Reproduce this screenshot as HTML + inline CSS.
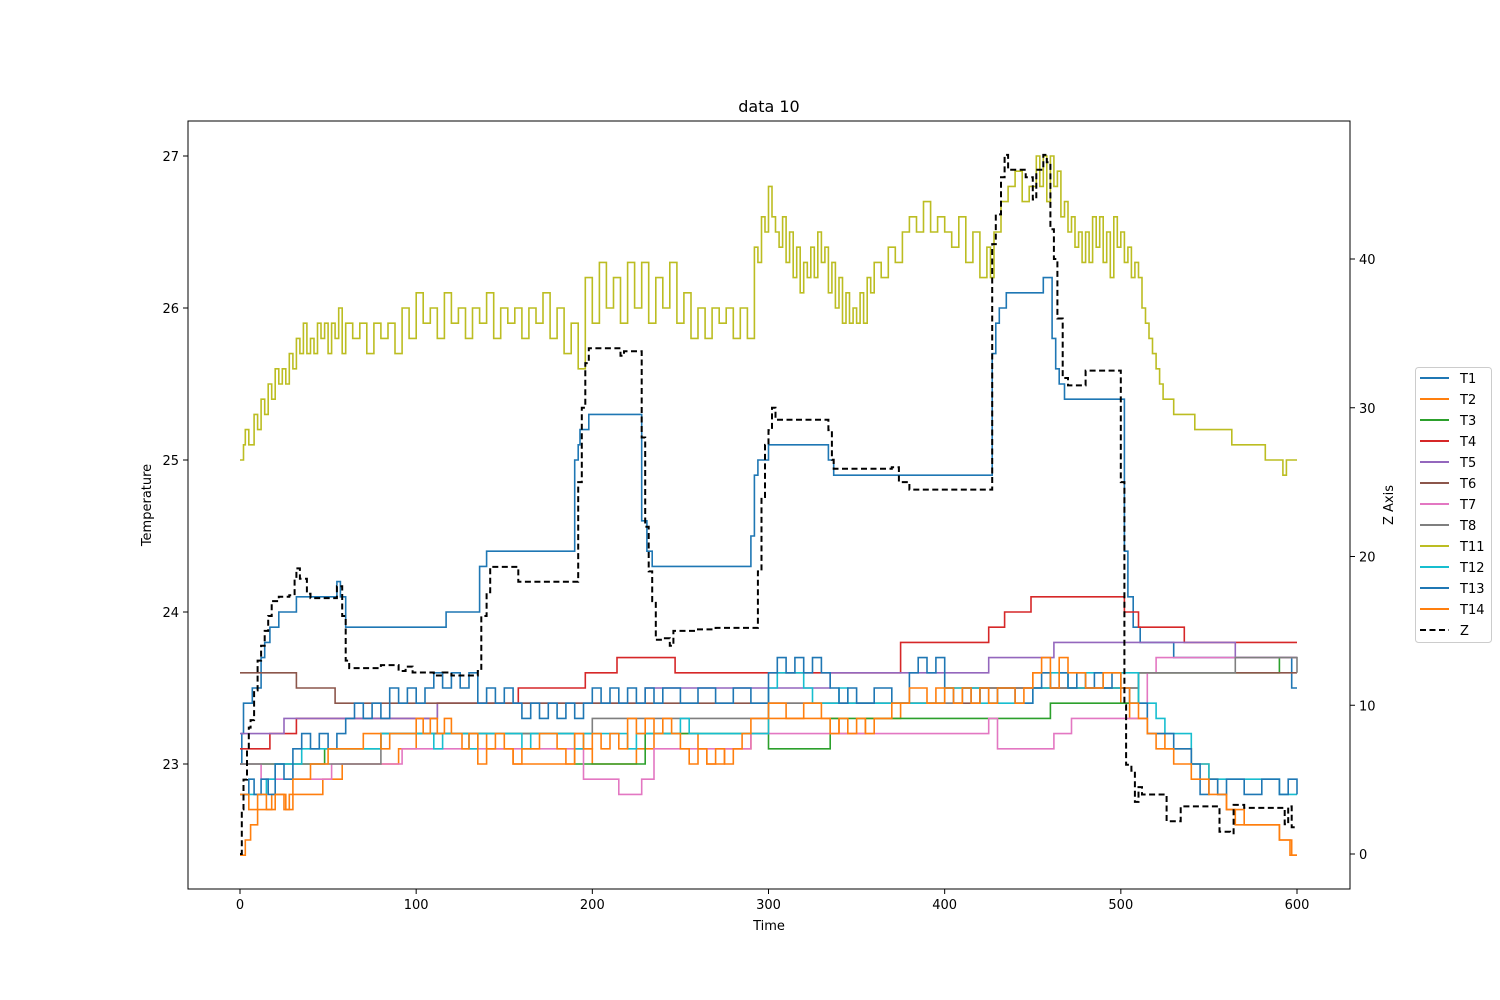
<!DOCTYPE html>
<html><head><meta charset="utf-8"><style>
body{margin:0;background:#fff;}
svg{display:block;font-family:"DejaVu Sans","Liberation Sans",sans-serif;}
</style></head><body>
<svg id="chart" width="1500" height="1000" xmlns="http://www.w3.org/2000/svg">
<rect x="0" y="0" width="1500" height="1000" fill="#fff"/>
<text x="769" y="112" font-size="16" text-anchor="middle">data 10</text>
<text x="769" y="930" font-size="13" text-anchor="middle">Time</text>
<text x="0" y="0" font-size="13" text-anchor="middle" transform="translate(151,505) rotate(-90)">Temperature</text>
<text x="0" y="0" font-size="13" text-anchor="middle" transform="translate(1393,505) rotate(-90)">Z Axis</text>
<g id="marks"></g>
<g id="axes"></g>
<g id="legend"></g>
</svg>
<script>
const xTicks=[0,100,200,300,400,500,600];
const yTicks=[23,24,25,26,27];
const zTicks=[0,10,20,30,40];
const seriesNames=["T1","T2","T3","T4","T5","T6","T7","T8","T11","T12","T13","T14","Z"];
const seriesColors=["#1f77b4","#ff7f0e","#2ca02c","#d62728","#9467bd","#8c564b","#e377c2","#7f7f7f","#bcbd22","#17becf","#1f77b4","#ff7f0e","#000"];

const t1Times=[0,1,2,7,12,14,17,22,32,55,57,60,117,136,138,140,190,192,193,195,198,227,228,231,234,290,292,294,297,300,333,334,337,425,427,429,431,435,456,461,463,465,468,500,502,504,507,511,530,597,600];
const t1Values=[23.0,23.2,23.4,23.5,23.7,23.8,23.9,24.0,24.1,24.2,24.1,23.9,24.0,24.3,24.3,24.4,25.0,25.1,25.2,25.2,25.3,25.3,24.6,24.4,24.3,24.5,24.9,25.0,25.0,25.1,25.1,25.0,24.9,24.9,25.7,25.9,26.0,26.1,26.2,25.8,25.6,25.5,25.4,25.4,24.4,24.1,23.9,23.8,23.7,23.5,23.5];

const t2Times=[0,3,6,10,18,26,28,47,58,90,100,140,155,190,200,225,235,260,265,275,290,300,340,355,375,395,450,460,500,505,515,525,540,550,555,560,565,590,597,600];
const t2Values=[22.4,22.5,22.6,22.7,22.8,22.7,22.8,22.9,23.0,23.1,23.2,23.1,23.0,23.1,23.0,23.1,23.2,23.1,23.0,23.1,23.2,23.3,23.2,23.3,23.4,23.5,23.6,23.5,23.4,23.3,23.2,23.1,23.0,22.9,22.8,22.7,22.6,22.5,22.4,22.4];

const t3Times=[0,48,80,190,230,300,335,460,510,515,590,600];
const t3Values=[23.0,23.1,23.2,23.0,23.2,23.1,23.3,23.4,23.6,23.6,23.7,23.7];

const t4Times=[0,17,32,112,158,196,214,247,375,425,434,449,502,510,536,600];
const t4Values=[23.1,23.2,23.3,23.4,23.5,23.6,23.7,23.6,23.8,23.9,24.0,24.1,24.0,23.9,23.8,23.8];

const t5Times=[0,25,112,230,335,425,462,565,600];
const t5Values=[23.2,23.3,23.4,23.5,23.6,23.7,23.8,23.7,23.7];

const t6Times=[0,32,54,250,420,510,600];
const t6Values=[23.6,23.5,23.4,23.4,23.5,23.6,23.6];

const t7Times=[0,12,52,92,195,215,228,235,290,425,430,462,472,515,520,600];
const t7Values=[23.0,22.9,23.0,23.1,22.9,22.8,22.9,23.1,23.2,23.3,23.1,23.2,23.3,23.6,23.7,23.7];

const t8Times=[0,80,200,300,410,510,565,600];
const t8Values=[23.0,23.2,23.3,23.4,23.5,23.6,23.7,23.6];

const t11Times=[0,2,3,5,8,10,12,14,16,18,20,22,24,26,28,30,32,34,36,38,40,42,44,46,48,50,52,54,56,58,60,64,68,72,76,80,84,88,92,96,100,104,108,112,116,120,124,128,132,136,140,144,148,152,156,160,164,168,172,176,180,184,188,192,196,200,204,208,212,216,220,224,228,232,236,240,244,248,252,256,260,264,268,272,276,280,284,288,292,294,296,298,300,302,304,306,308,310,312,314,316,318,320,322,324,326,328,330,332,334,336,338,340,342,344,346,348,350,352,354,356,358,360,364,368,372,376,380,384,388,392,396,400,404,408,412,416,420,424,426,428,432,436,440,444,448,452,454,456,458,460,462,464,466,468,470,472,474,476,478,480,482,484,486,488,490,492,494,496,498,500,502,504,506,508,510,512,514,516,518,520,522,524,526,530,542,563,582,592,594,600];
const t11Values=[25.0,25.1,25.2,25.1,25.3,25.2,25.4,25.3,25.5,25.4,25.6,25.5,25.6,25.5,25.7,25.6,25.8,25.7,25.9,25.7,25.8,25.7,25.9,25.8,25.9,25.7,25.9,25.8,26.0,25.7,25.9,25.8,25.9,25.7,25.9,25.8,25.9,25.7,26.0,25.8,26.1,25.9,26.0,25.8,26.1,25.9,26.0,25.8,26.0,25.9,26.1,25.8,26.0,25.9,26.0,25.8,26.0,25.9,26.1,25.8,26.0,25.7,25.9,25.6,26.2,25.9,26.3,26.0,26.2,25.9,26.3,26.0,26.3,25.9,26.2,26.0,26.3,25.9,26.1,25.8,26.0,25.8,26.0,25.9,26.0,25.8,26.0,25.8,26.4,26.3,26.6,26.5,26.8,26.6,26.5,26.4,26.6,26.3,26.5,26.2,26.4,26.1,26.3,26.2,26.4,26.2,26.5,26.3,26.4,26.1,26.3,26.0,26.2,25.9,26.1,25.9,26.0,25.9,26.1,25.9,26.2,26.1,26.3,26.2,26.4,26.3,26.5,26.6,26.5,26.7,26.5,26.6,26.5,26.4,26.6,26.3,26.5,26.2,26.4,26.2,26.5,26.7,26.8,26.9,26.7,26.8,27.0,26.8,27.0,26.7,27.0,26.8,26.9,26.6,26.7,26.5,26.6,26.4,26.5,26.3,26.5,26.3,26.6,26.4,26.6,26.3,26.5,26.2,26.6,26.4,26.5,26.3,26.4,26.2,26.3,26.2,26.0,25.9,25.8,25.7,25.6,25.5,25.4,25.4,25.3,25.2,25.1,25.0,24.9,25.0,25.0];

const t12Times=[0,15,20,35,80,110,115,130,135,160,165,190,195,220,225,250,255,300,305,320,325,340,345,380,400,420,450,460,470,480,490,500,510,520,525,540,550,590,600];
const t12Values=[22.8,22.9,23.0,23.1,23.2,23.1,23.2,23.1,23.2,23.1,23.2,23.1,23.2,23.1,23.2,23.3,23.2,23.5,23.6,23.5,23.4,23.5,23.4,23.4,23.5,23.4,23.5,23.6,23.5,23.6,23.5,23.6,23.4,23.3,23.2,23.0,22.9,22.8,22.8];

const t13Times=[0,5,8,12,16,20,25,30,35,40,45,50,55,60,65,70,75,80,85,90,95,100,105,110,115,120,125,130,135,140,145,150,155,160,165,170,175,180,185,190,195,200,205,210,215,220,225,230,235,240,250,260,270,280,290,300,305,310,315,320,325,330,335,340,345,350,360,370,380,385,390,395,400,405,410,415,420,425,430,440,450,455,460,465,470,475,480,485,490,495,500,505,510,515,520,530,540,545,550,555,560,570,580,590,595,600];
const t13Values=[22.8,22.9,22.8,22.9,22.8,23.0,22.9,23.1,23.2,23.1,23.2,23.1,23.2,23.3,23.4,23.3,23.4,23.3,23.5,23.4,23.5,23.4,23.5,23.6,23.5,23.6,23.5,23.6,23.4,23.5,23.4,23.5,23.4,23.3,23.4,23.3,23.4,23.3,23.4,23.3,23.4,23.5,23.4,23.5,23.4,23.5,23.4,23.5,23.4,23.5,23.4,23.5,23.4,23.5,23.4,23.6,23.7,23.6,23.7,23.6,23.7,23.6,23.5,23.4,23.5,23.4,23.5,23.4,23.6,23.7,23.6,23.7,23.5,23.4,23.5,23.4,23.5,23.4,23.5,23.4,23.5,23.6,23.5,23.6,23.5,23.6,23.5,23.6,23.5,23.6,23.5,23.4,23.4,23.2,23.2,23.1,23.0,22.8,22.9,22.8,22.9,22.8,22.9,22.8,22.9,22.8];

const t14Times=[0,5,10,15,20,25,30,40,50,70,80,85,100,104,108,112,116,120,126,130,135,140,145,150,155,160,170,180,185,190,195,200,205,210,215,220,225,230,235,240,245,250,255,260,265,270,275,280,285,290,300,310,320,330,335,340,345,350,355,360,370,380,390,400,405,410,415,420,425,430,440,445,450,455,460,465,470,480,490,500,505,510,515,520,530,540,550,560,570,590,596,600];
const t14Values=[22.8,22.7,22.8,22.7,22.8,22.7,22.9,23.0,23.1,23.2,23.1,23.2,23.3,23.2,23.3,23.2,23.3,23.2,23.1,23.2,23.0,23.1,23.2,23.1,23.0,23.1,23.2,23.1,23.0,23.2,23.1,23.2,23.1,23.2,23.1,23.3,23.2,23.3,23.2,23.3,23.2,23.1,23.0,23.1,23.0,23.1,23.0,23.1,23.2,23.3,23.4,23.3,23.4,23.3,23.2,23.3,23.2,23.3,23.2,23.3,23.4,23.5,23.4,23.5,23.4,23.5,23.4,23.5,23.4,23.5,23.4,23.5,23.6,23.7,23.5,23.7,23.6,23.5,23.6,23.5,23.4,23.3,23.2,23.1,23.0,22.9,22.8,22.7,22.6,22.5,22.4,22.4];

const zTimes=[0,1,2,4,5,6,8,10,12,14,16,18,22,28,31,32,34,38,40,55,58,60,62,80,90,94,98,110,115,120,135,137,140,142,158,190,192,194,196,198,215,216,218,226,228,230,232,234,236,240,244,246,260,270,292,294,296,298,300,302,304,334,336,337,370,374,380,425,427,429,432,434,436,446,450,452,456,458,460,462,464,467,470,480,498,500,502,503,506,508,510,512,524,526,530,534,550,556,562,564,570,590,593,595,597,600];
const zValues=[0,3,5,7,8.5,9,11,13,14,15,16,17,17.3,17.4,18.5,19.2,18.5,17.5,17.2,18.0,16.0,13,12.5,12.7,12.3,12.6,12.2,12.0,12.2,12.0,12.3,16,17.6,19.3,18.3,18.3,25,30,33,34,34,33.5,33.8,33.8,28,22,19,17,14.4,14.5,14,15,15.1,15.2,15.2,19,24,27.5,28.5,30,29.2,28.5,26.5,25.9,26,25,24.5,24.5,41,43,45.5,47,46,45.5,44,46,47,46.5,42,40,36,32,31.5,32.5,32.5,25,10,6,5.6,3.5,4.5,4,4,2.2,2.2,3.2,3.2,1.5,1.4,3.3,3.1,3.1,2,3.2,1.8,1.8];

const L=188,R=1350,T=121,B=889;
const xs=t=>240+t*(1297-240)/600;
const ys=v=>764-(v-23)*152;
const zs=v=>854-v*14.875;
const NS="http://www.w3.org/2000/svg";
function mk(tag,attrs,parent){const e=document.createElementNS(NS,tag);for(const k in attrs)e.setAttribute(k,attrs[k]);parent.appendChild(e);return e;}

const marks=document.getElementById('marks');
const allTimes=[t1Times,t2Times,t3Times,t4Times,t5Times,t6Times,t7Times,t8Times,t11Times,t12Times,t13Times,t14Times,zTimes];
const allValues=[t1Values,t2Values,t3Values,t4Values,t5Values,t6Values,t7Values,t8Values,t11Values,t12Values,t13Values,t14Values,zValues];
const drawOrder=[0,1,2,3,4,5,6,7,8,9,10,11,12];
drawOrder.forEach(i=>{
  const tt=allTimes[i],vv=allValues[i],sc=(i===12?zs:ys);
  let d="";
  for(let k=0;k<tt.length;k++){
    const x=xs(tt[k]),y=sc(vv[k]);
    if(k===0)d+="M"+x.toFixed(1)+","+y.toFixed(1);
    else d+="H"+x.toFixed(1)+"V"+y.toFixed(1);
  }
  const p=mk('path',{d:d,fill:'none',stroke:seriesColors[i],'stroke-width':(i===12?2:1.6),'stroke-linejoin':'miter'},marks);
  if(i===12)p.setAttribute('stroke-dasharray','6,3.5');
  
  
});

const axes=document.getElementById('axes');
const frame=mk('rect',{x:L,y:T,width:R-L,height:B-T,fill:'none',stroke:'#000','stroke-width':1},axes);


xTicks.forEach(v=>{
  const x=xs(v);
  const tk=mk('line',{x1:x,x2:x,y1:B,y2:B+5,stroke:'#000'},axes);
  
  
  const tx=mk('text',{x:x,y:B+20,'font-size':13,'text-anchor':'middle'},axes);
  tx.textContent=v;
  
  
});
yTicks.forEach(v=>{
  const y=ys(v);
  const tk=mk('line',{x1:L-5,x2:L,y1:y,y2:y,stroke:'#000'},axes);
  
  
  const tx=mk('text',{x:L-9,y:y+5,'font-size':13,'text-anchor':'end'},axes);
  tx.textContent=v;
  
  
});
zTicks.forEach(v=>{
  const y=zs(v);
  const tk=mk('line',{x1:R,x2:R+5,y1:y,y2:y,stroke:'#000'},axes);
  
  
  const tx=mk('text',{x:R+9,y:y+5,'font-size':13,'text-anchor':'start'},axes);
  tx.textContent=v;
  
  
});

const lg=document.getElementById('legend');
const box=mk('rect',{x:1415.5,y:367.5,width:76,height:275,rx:3,fill:'#fff',stroke:'#ccc'},lg);


seriesNames.forEach((n,i)=>{
  const y=378+i*21;
  const ln=mk('line',{x1:1420,x2:1449,y1:y,y2:y,stroke:seriesColors[i],'stroke-width':2},lg);
  if(i===12)ln.setAttribute('stroke-dasharray','6,3.5');
  
  
  const tx=mk('text',{x:1460,y:y+5,'font-size':13},lg);
  tx.textContent=n;
  
  
});
</script>
</body></html>
